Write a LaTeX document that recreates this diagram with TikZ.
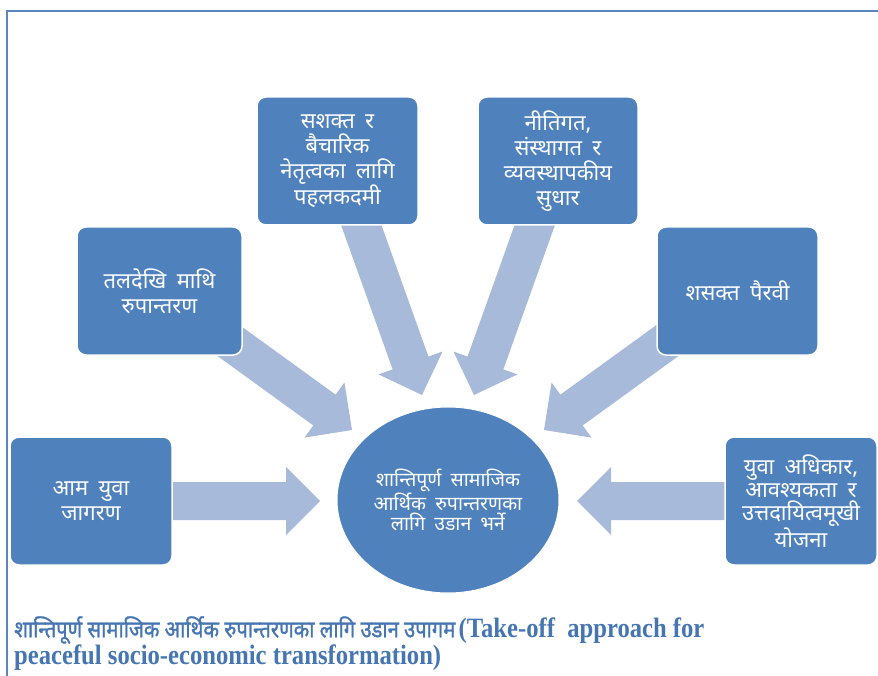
\documentclass[tikz,border=0pt]{standalone}
\usepackage{fontspec}
\usetikzlibrary{calc,shapes.geometric}
\newfontfamily\deva[Script=Devanagari,WordSpace=1.8]{Noto Sans}
\newfontfamily\capdeva[Script=Devanagari,FakeStretch=0.86,FakeBold=1.2]{Noto Sans}
\newfontfamily\capen[FakeStretch=0.88]{Liberation Serif}
\definecolor{boxblue}{RGB}{79,129,189}
\definecolor{arrowblue}{RGB}{167,186,218}
\definecolor{framecol}{RGB}{92,134,190}
\definecolor{capcol}{RGB}{70,118,178}
\tikzset{
  bluebox/.style={rectangle, rounded corners=9pt, fill=boxblue, draw=white, line width=1.5pt,
    text=white, align=center, font=\deva\fontsize{22}{25}\selectfont, inner sep=2pt},
  hub/.style={ellipse, fill=boxblue, draw=white, line width=1pt, text=white, align=center,
    minimum width=222pt, minimum height=186pt, inner sep=0pt, font=\deva\fontsize{19.5}{20.5}\selectfont},
  arrowfill/.style={fill=arrowblue},
  captext/.style={anchor=west, text=capcol, inner sep=0pt}
}
\newcommand{\blkarrow}[2]{%
  \coordinate (hb) at ($(#2)!34pt!(#1)$);
  \fill[arrowfill] ($(#1)!19pt!90:(#2)$) -- ($(hb)!19pt!90:(#2)$) -- ($(hb)!34pt!90:(#2)$)
    -- (#2) -- ($(hb)!34pt!-90:(#2)$) -- ($(hb)!19pt!-90:(#2)$) -- ($(#1)!19pt!-90:(#2)$) -- cycle;}
\begin{document}
\begin{tikzpicture}[x=1pt,y=-1pt]
\useasboundingbox (0,0) rectangle (878,676);
\fill[white] (0,0) rectangle (878,676);
% frame
\draw[framecol, line width=2pt] (878,11) -- (7,11) -- (7,676);
% arrow end coordinates
\coordinate (sE) at (165,501);  \coordinate (tE) at (320,501);
\coordinate (sF) at (730,501);  \coordinate (tF) at (577,501);
\coordinate (sC) at (214,330);  \coordinate (tC) at (352,430);
\coordinate (sD) at (682,330);  \coordinate (tD) at (544,430);
\coordinate (sA) at (358,216);  \coordinate (tA) at (422,395);
\coordinate (sB) at (538,216);  \coordinate (tB) at (474,395);
% arrows
\blkarrow{sE}{tE}
\blkarrow{sF}{tF}
\blkarrow{sC}{tC}
\blkarrow{sD}{tD}
\blkarrow{sA}{tA}
\blkarrow{sB}{tB}
% boxes
\node[bluebox, minimum width=161pt, minimum height=128pt] (A) at (337.5,161) {सशक्त र\\बैचारिक\\नेतृत्वका लागि\\पहलकदमी};
\node[bluebox, minimum width=160pt, minimum height=128pt] (B) at (558,161) {नीतिगत,\\संस्थागत र\\व्यवस्थापकीय\\सुधार};
\node[bluebox, minimum width=165pt, minimum height=128pt] (C) at (159.5,291) {तलदेखि माथि\\रुपान्तरण};
\node[bluebox, minimum width=161pt, minimum height=128pt] (D) at (737.5,291) {शसक्त पैरवी};
\node[bluebox, minimum width=162pt, minimum height=128pt] (E) at (91,501) {आम युवा\\जागरण};
\node[bluebox, minimum width=152pt, minimum height=128pt, font=\deva\fontsize{22}{23}\selectfont] (F) at (801,501) {युवा अधिकार,\\आवश्यकता र\\उत्तदायित्वमूखी\\योजना};
% hub
\node[hub] (H) at (448,500) {शान्तिपूर्ण सामाजिक\\आर्थिक रुपान्तरणका\\लागि उडान भर्ने};
% caption
\node[captext] (cap1) at (14,630) {{\capdeva\fontsize{23.5}{26}\selectfont शान्तिपूर्ण सामाजिक आर्थिक रुपान्तरणका लागि उडान उपागम} {\capen\bfseries\fontsize{28}{30}\selectfont (Take-off~ approach for}};
\node[captext] (cap2) at (14,658) {\capen\bfseries\fontsize{28}{30}\selectfont peaceful socio-economic transformation)};
\end{tikzpicture}
\end{document}
